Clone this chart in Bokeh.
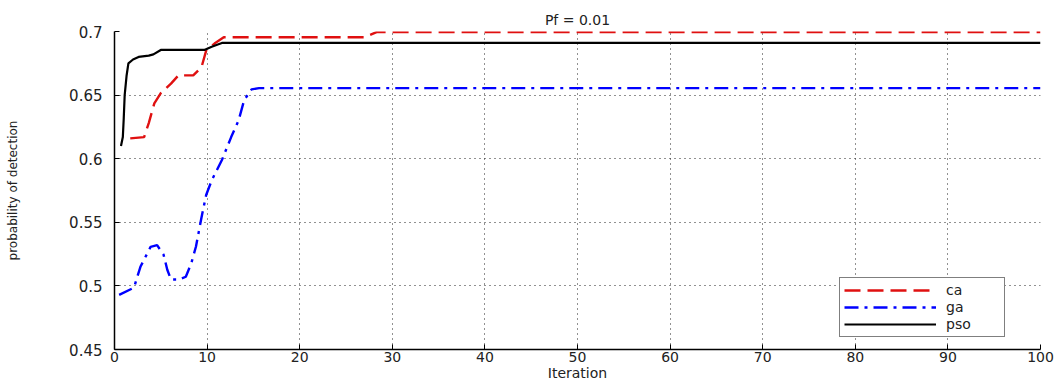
from bokeh.plotting import figure
from bokeh.models import Legend, LegendItem, FixedTicker, Range1d
from bokeh.embed import file_html
from bokeh.resources import INLINE

# ---- data ----
ca_x = [1.7, 3.2, 3.7, 4.3, 5.0, 6.1, 6.9, 8.5, 9.4, 9.9, 10.8, 11.8, 27.0, 28.3, 100]
ca_y = [0.616, 0.617, 0.628, 0.6435, 0.6515, 0.659, 0.6655, 0.6655, 0.672, 0.685,
        0.6905, 0.6955, 0.6955, 0.6995, 0.6995]

ga_x = [0.5, 2.1, 2.8, 3.9, 4.6, 5.3, 5.7, 6.1, 7.0, 7.7, 8.3, 8.8, 9.4, 9.9, 10.5,
        11.6, 12.6, 13.4, 14.0, 14.8, 15.6, 100]
ga_y = [0.493, 0.4986, 0.515, 0.5307, 0.532, 0.5245, 0.5127, 0.505, 0.505, 0.5072,
        0.518, 0.531, 0.554, 0.5715, 0.583, 0.599, 0.617, 0.630, 0.646, 0.6545,
        0.6555, 0.6555]

pso_x = [0.7, 0.9, 1.0, 1.1, 1.3, 1.5, 2.0, 2.6, 3.7, 4.2, 5.0, 9.7, 10.5, 11.6, 100]
pso_y = [0.610, 0.617, 0.632, 0.650, 0.665, 0.675, 0.678, 0.680, 0.681, 0.682,
         0.6855, 0.6855, 0.688, 0.691, 0.691]

x_ticks = [0, 10, 20, 30, 40, 50, 60, 70, 80, 90, 100]
y_ticks = [0.45, 0.5, 0.55, 0.6, 0.65, 0.7]
y_tick_labels = ["0.45", "0.5", "0.55", "0.6", "0.65", "0.7"]

FONT = "DejaVu Sans"

p = figure(width=1064, height=383, output_backend="svg", toolbar_location=None,
           x_range=Range1d(0, 100), y_range=Range1d(0.45, 0.7),
           min_border_left=114, min_border_right=24, min_border_top=31,
           min_border_bottom=33, title="Pf = 0.01")
p.outline_line_color = None
p.background_fill_color = "white"
p.border_fill_color = "white"

p.title.align = "center"
p.title.text_font = FONT
p.title.text_font_size = "14px"
p.title.text_font_style = "normal"
p.title.text_color = "#222222"
p.title.offset = 0
p.title.standoff = 8

# axes
for ax in (p.xaxis[0], p.yaxis[0]):
    ax.axis_line_color = "black"
    ax.axis_line_width = 1.5
    ax.major_tick_in = 5
    ax.major_tick_out = 0
    ax.major_tick_line_color = "black"
    ax.minor_tick_line_color = None
    ax.major_label_text_font = FONT
    ax.major_label_text_font_size = "14px"
    ax.major_label_text_color = "#222222"
    ax.axis_label_text_font = FONT
    ax.axis_label_text_font_style = "normal"
    ax.axis_label_text_color = "#222222"

p.xaxis.ticker = FixedTicker(ticks=x_ticks)
p.yaxis.ticker = FixedTicker(ticks=y_ticks)
p.yaxis.major_label_overrides = {t: l for t, l in zip(y_ticks, y_tick_labels)}
p.yaxis.major_label_text_font_size = "15px"
p.xaxis.axis_label = "Iteration"
p.xaxis.axis_label_text_font_size = "14px"
p.xaxis.major_label_standoff = 2
p.xaxis.axis_label_standoff = 0
p.yaxis.axis_label = "probability of detection"
p.yaxis.axis_label_text_font_size = "12px"
p.yaxis.major_label_standoff = 12
p.yaxis.axis_label_standoff = 46

# grid
for g in (p.xgrid[0], p.ygrid[0]):
    g.grid_line_color = "#222222"
    g.grid_line_dash = "1 4"
    g.grid_line_width = 1

# lines
r_ca = p.line(ca_x, ca_y, line_color="#e01010", line_width=2.4, line_dash="16 7")
r_ga = p.line(ga_x, ga_y, line_color="#0000ff", line_width=2.4, line_dash="14 6 3 6")
r_pso = p.line(pso_x, pso_y, line_color="black", line_width=2.2)

legend = Legend(items=[LegendItem(label="ca", renderers=[r_ca]),
                       LegendItem(label="ga", renderers=[r_ga]),
                       LegendItem(label="pso", renderers=[r_pso])],
                location=(725, 12))
legend.border_line_color = "black"
legend.border_line_width = 1
legend.background_fill_color = "white"
legend.background_fill_alpha = 1
legend.label_text_font = FONT
legend.label_text_font_size = "14px"
legend.label_text_color = "#222222"
legend.glyph_width = 92
legend.glyph_height = 14
legend.label_height = 14
legend.label_standoff = 10
legend.label_width = 54
legend.spacing = 1
legend.padding = 4
legend.margin = 0
p.add_layout(legend, "center")

open("out.html", "w").write(file_html(p, INLINE))
